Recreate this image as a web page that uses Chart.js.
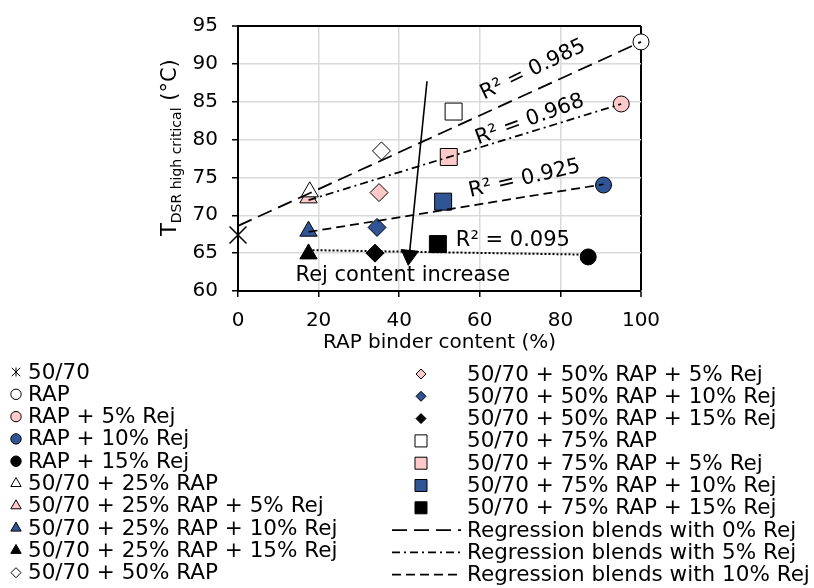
<!DOCTYPE html>
<html>
<head>
<meta charset="utf-8">
<script src="https://cdn.jsdelivr.net/npm/chart.js@4.4.1/dist/chart.umd.min.js"></script>
<style>
  html, body { margin: 0; padding: 0; background: #fff; }
  #wrap { width: 814px; height: 588px; }
</style>
</head>
<body>
<div id="wrap"><canvas id="chart" width="814" height="588"></canvas></div>
<script>
// Values
const seriesNames = [
  '50/70', 'RAP', 'RAP + 5% Rej', 'RAP + 10% Rej', 'RAP + 15% Rej',
  '50/70 + 25% RAP', '50/70 + 25% RAP + 5% Rej', '50/70 + 25% RAP + 10% Rej', '50/70 + 25% RAP + 15% Rej',
  '50/70 + 50% RAP', '50/70 + 50% RAP + 5% Rej', '50/70 + 50% RAP + 10% Rej', '50/70 + 50% RAP + 15% Rej',
  '50/70 + 75% RAP', '50/70 + 75% RAP + 5% Rej', '50/70 + 75% RAP + 10% Rej', '50/70 + 75% RAP + 15% Rej',
];
const rapBinder = [0, 100, 95.1, 90.7, 86.9, 17.8, 17.5, 17.5, 17.5, 35.6, 35.0, 34.5, 34.0, 53.5, 52.3, 50.9, 49.6];
const tDsrHigh  = [67.4, 92.9, 84.7, 74.0, 64.5, 73.1, 72.3, 67.9, 64.9, 78.5, 73.0, 68.4, 65.0, 83.7, 77.7, 71.8, 66.2];

const regNames = ['Regression blends with 0% Rej', 'Regression blends with 5% Rej', 'Regression blends with 10% Rej', 'Regression blends with 15% Rej'];
const regX = [[0, 100], [17.5, 95.1], [17.5, 90.7], [17.5, 86.9]];
const regY = [[68.6, 92.9], [72.0, 84.7], [67.8, 74.1], [65.4, 64.8]];
const r2Labels = ['R\u00B2 = 0.985', 'R\u00B2 = 0.968', 'R\u00B2 = 0.925', 'R\u00B2 = 0.095'];

const arrowX = [46.9, 42.5];
const arrowY = [87.7, 64.7];
const arrowLabel = 'Rej content increase';

const xTicks = [0, 20, 40, 60, 80, 100];
const yTicks = [60, 65, 70, 75, 80, 85, 90, 95];

// styles
const FONT = '"DejaVu Sans", Verdana, sans-serif';
const WHITE = '#ffffff', PINK = '#ffc9c9', BLUE = '#2f5597', BLACK = '#000000';
const markers = [
  { style: 'crossRot', fill: BLACK, r: 12 },
  { style: 'circle', fill: WHITE, r: 8 },
  { style: 'circle', fill: PINK,  r: 8 },
  { style: 'circle', fill: BLUE,  r: 8 },
  { style: 'circle', fill: BLACK, r: 8 },
  { style: 'triangle', fill: WHITE, r: 10 },
  { style: 'triangle', fill: PINK,  r: 10 },
  { style: 'triangle', fill: BLUE,  r: 10 },
  { style: 'triangle', fill: BLACK, r: 10 },
  { style: 'rectRot', fill: WHITE, r: 9 },
  { style: 'rectRot', fill: PINK,  r: 9 },
  { style: 'rectRot', fill: BLUE,  r: 9 },
  { style: 'rectRot', fill: BLACK, r: 9 },
  { style: 'rect', fill: WHITE, r: 12 },
  { style: 'rect', fill: PINK,  r: 12 },
  { style: 'rect', fill: BLUE,  r: 12 },
  { style: 'rect', fill: BLACK, r: 12 },
];
const legendMarkerR = { crossRot: 6, circle: 5.2, triangle: 6, rectRot: 5, rect: 8.5 };
const regDash = [[15, 7], [8, 4, 2, 4], [9, 5], [2, 2]];
// where the R² notes sit (data units) and their tilt in degrees
const r2Pos = [
  { x: 73.2, y: 89.2, a: -26 },
  { x: 72.4, y: 82.6, a: -20 },
  { x: 71.1, y: 74.8, a: -13 },
  { x: 68.2, y: 66.7, a: 0 },
];
const arrowLabelPos = { x: 40.9, y: 62.0 };

const regSets = regNames.map((name, i) => ({
  label: name,
  data: regX[i].map((x, j) => ({ x, y: regY[i][j] })),
  showLine: true,
  pointRadius: 0,
  borderColor: BLACK,
  borderWidth: i === 3 ? 2 : 1.75,
  borderDash: regDash[i],
  clip: false,
}));

const arrowSet = {
  label: 'arrow',
  data: arrowX.map((x, j) => ({ x, y: arrowY[j] })),
  showLine: true,
  borderColor: BLACK,
  borderWidth: 1.6,
  pointRadius: [0, 10],
  pointStyle: 'triangle',
  pointRotation: 186,
  pointBackgroundColor: BLACK,
  pointBorderColor: BLACK,
  pointBorderWidth: 1,
  clip: false,
};

const pointSets = seriesNames.map((name, i) => ({
  label: name,
  data: [{ x: rapBinder[i], y: tDsrHigh[i] }],
  pointStyle: markers[i].style,
  pointRadius: markers[i].r,
  pointBackgroundColor: markers[i].fill,
  pointBorderColor: BLACK,
  pointBorderWidth: i === 0 ? 1.5 : 1,
  clip: false,
}));

// legend entries: 17 marker series then 3 regression lines, in two columns of 10
const legendEntries = [
  ...seriesNames.map((name, i) => ({ name, marker: markers[i] })),
  ...regNames.slice(0, 3).map((name, i) => ({ name, dash: regDash[i] })),
];

function drawStar(ctx, x, y, r) {
  Chart.helpers.drawPoint(ctx, { pointStyle: 'crossRot', radius: r, rotation: 0, borderWidth: 1 }, x, y);
  ctx.beginPath();
  ctx.moveTo(x, y - r * 0.75);
  ctx.lineTo(x, y + r * 0.75);
  ctx.stroke();
}

const extrasPlugin = {
  id: 'extras',
  afterDatasetsDraw(chart) {
    const { ctx, scales: { x, y } } = chart;
    ctx.save();
    ctx.fillStyle = BLACK;
    ctx.font = '21px ' + FONT;
    ctx.textAlign = 'center';
    ctx.textBaseline = 'middle';
    r2Labels.forEach((txt, i) => {
      const p = r2Pos[i];
      ctx.save();
      ctx.translate(x.getPixelForValue(p.x), y.getPixelForValue(p.y));
      ctx.rotate(p.a * Math.PI / 180);
      ctx.fillText(txt, 0, 0);
      ctx.restore();
    });
    ctx.fillText(arrowLabel, x.getPixelForValue(arrowLabelPos.x), y.getPixelForValue(arrowLabelPos.y));
    ctx.restore();
  },
  afterDraw(chart) {
    const { ctx } = chart;
    ctx.save();
    ctx.fillStyle = BLACK;

    // y axis title with subscript
    ctx.translate(176, 236);
    ctx.rotate(-Math.PI / 2);
    ctx.textBaseline = 'alphabetic';
    ctx.textAlign = 'left';
    ctx.font = '21px ' + FONT;
    ctx.fillText('T', 0, 0);
    let w = ctx.measureText('T').width;
    ctx.font = '14px ' + FONT;
    ctx.fillText('DSR high critical', w, 5);
    w += ctx.measureText('DSR high critical').width;
    ctx.font = '21px ' + FONT;
    ctx.fillText(' (\u00B0C)', w, 0);
    ctx.restore();

    // legend
    ctx.save();
    ctx.font = '21.5px ' + FONT;
    ctx.textBaseline = 'middle';
    ctx.textAlign = 'left';
    legendEntries.forEach((e, i) => {
      const col = i < 10 ? 0 : 1;
      const row = i % 10;
      const cy = (col ? 374 : 372) + row * 22.3;
      const mx = col ? 421 : 16;
      const tx = col ? 467 : 28;
      ctx.strokeStyle = BLACK;
      ctx.lineWidth = 1;
      ctx.setLineDash([]);
      if (e.marker) {
        ctx.fillStyle = e.marker.fill;
        const r = legendMarkerR[e.marker.style];
        if (e.marker.style === 'crossRot') drawStar(ctx, mx, cy, r);
        else Chart.helpers.drawPoint(ctx, { pointStyle: e.marker.style, radius: r, rotation: 0, borderWidth: 1 }, mx, cy);
      } else {
        ctx.lineWidth = 1.75;
        ctx.setLineDash(e.dash);
        ctx.beginPath();
        ctx.moveTo(392, cy);
        ctx.lineTo(461, cy);
        ctx.stroke();
        ctx.setLineDash([]);
      }
      ctx.fillStyle = BLACK;
      ctx.fillText(e.name, tx, cy + 1);
    });
    ctx.restore();
  },
};

new Chart(document.getElementById('chart'), {
  type: 'scatter',
  data: { datasets: [...regSets, arrowSet, ...pointSets] },
  options: {
    responsive: false,
    animation: false,
    devicePixelRatio: 1,
    events: [],
    layout: { padding: { top: 23, right: 173, bottom: 233, left: 0 } },
    plugins: { legend: { display: false }, tooltip: { enabled: false } },
    scales: {
      x: {
        type: 'linear',
        min: 0, max: 100,
        afterFit(scale) { scale.height = 64; },
        afterBuildTicks(scale) { scale.ticks = xTicks.map(v => ({ value: v })); },
        ticks: { color: BLACK, padding: 12, font: { family: FONT, size: 20 } },
        grid: {
          color: c => (c.tick && c.tick.value === 100 ? BLACK : '#d9d9d9'),
          lineWidth: c => (c.tick && c.tick.value === 100 ? 2 : 1.5),
          tickColor: BLACK, tickLength: 6, tickWidth: 1.5,
        },
        border: { display: true, color: BLACK, width: 2 },
        title: { display: true, text: 'RAP binder content (%)', color: BLACK, font: { family: FONT, size: 20 }, padding: { top: 0, bottom: 0 } },
      },
      y: {
        type: 'linear',
        min: 60, max: 95,
        afterFit(scale) { scale.width = 238; },
        afterBuildTicks(scale) { scale.ticks = yTicks.map(v => ({ value: v })); },
        ticks: { color: BLACK, padding: 14, font: { family: FONT, size: 20 } },
        grid: {
          color: c => (c.tick && c.tick.value === 95 ? BLACK : '#d9d9d9'),
          lineWidth: c => (c.tick && c.tick.value === 95 ? 2 : 1.5),
          tickColor: BLACK, tickLength: 6, tickWidth: 1.5,
        },
        border: { display: true, color: BLACK, width: 2 },
      },
    },
  },
  plugins: [extrasPlugin],
});
</script>
</body>
</html>
